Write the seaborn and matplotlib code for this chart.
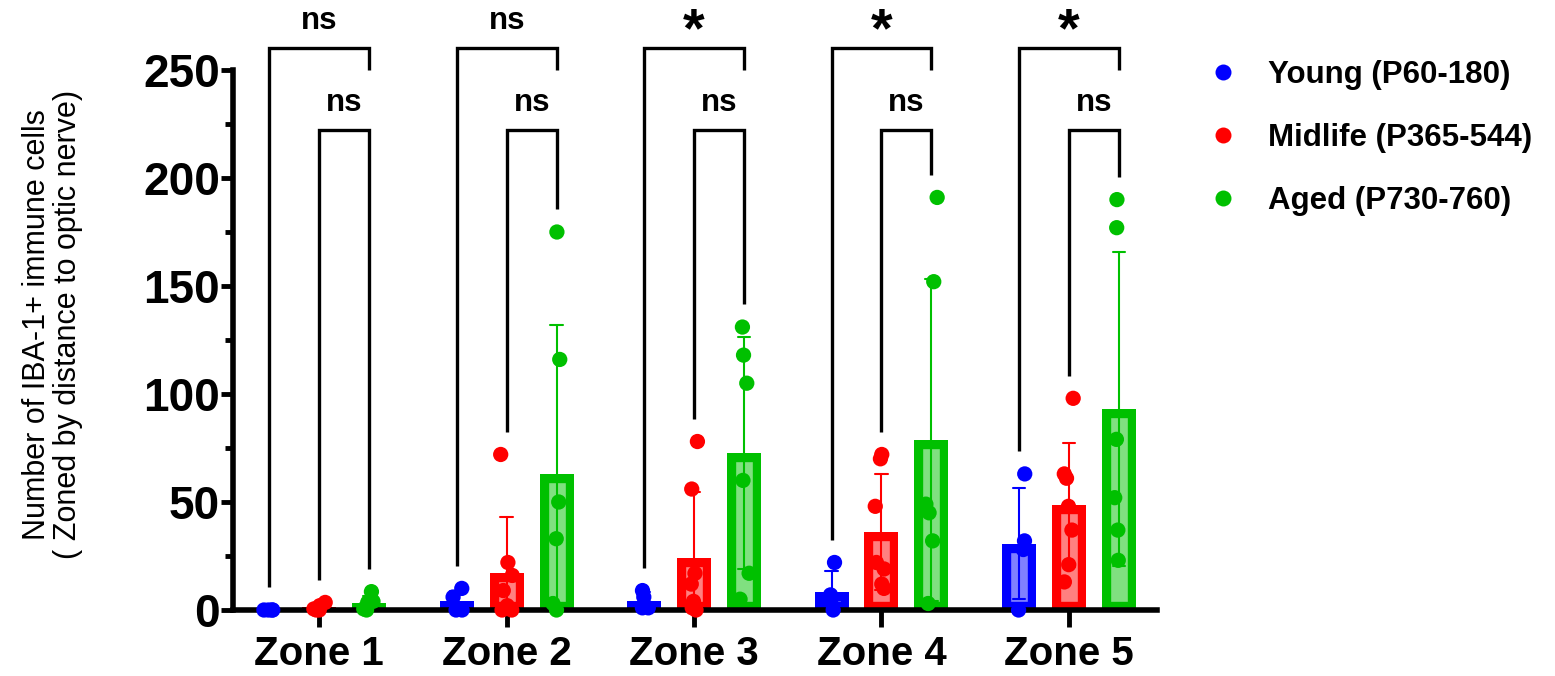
import numpy as np
import pandas as pd
import matplotlib
matplotlib.use("Agg")
import matplotlib.pyplot as plt
from matplotlib.lines import Line2D
from matplotlib.ticker import MultipleLocator
import seaborn as sns

# IBA-1+ cell counts per retina, by zone (distance to optic nerve) and age group
zones = ["Zone 1", "Zone 2", "Zone 3", "Zone 4", "Zone 5"]
groups = ["Young (P60-180)", "Midlife (P365-544)", "Aged (P730-760)"]

young = [
    [0, 0, 0, 0],
    [10, 6, 0, 0],
    [9, 6, 1, 1],
    [22, 7, 4, 0],
    [63, 32, 28, 0],
]
midlife = [
    [3.5, 2, 1, 0.5, 0, 0],
    [72, 22, 16, 9, 2, 0, 0],
    [78, 56, 17, 12, 4, 1, 0],
    [72, 70, 48, 22, 19, 12, 10],
    [98, 63, 61, 48, 37, 21, 13],
]
aged = [
    [8.5, 4, 3.5, 0.5, 0],
    [175, 116, 50, 33, 3, 0],
    [131, 118, 105, 60, 17, 5],
    [191, 152, 49, 45, 32, 3],
    [190, 177, 79, 52, 37, 23],
]

# multiple-comparison results: Young vs Aged (outer), Midlife vs Aged (inner)
outer_marks = ["ns", "ns", "*", "*", "*"]
inner_marks = ["ns", "ns", "ns", "ns", "ns"]

line_colors = ["#0000FF", "#FF0000", "#00C000"]
fill_colors = ["#8080FF", "#FF8080", "#80E080"]

rows = []
for g, series in zip(groups, [young, midlife, aged]):
    for z, vals in zip(zones, series):
        for v in vals:
            rows.append({"zone": z, "group": g, "count": v})
df = pd.DataFrame(rows)

sns.set_style("ticks")
plt.rcParams["font.family"] = ["Liberation Sans", "DejaVu Sans"]
for key in ("text.color", "axes.labelcolor", "xtick.color", "ytick.color", "axes.edgecolor"):
    plt.rcParams[key] = "black"

W, H = 1555, 676
fig = plt.figure(figsize=(W / 100, H / 100), dpi=100)
ax = fig.add_axes([233 / W, 66 / H, 924 / W, 540 / H])

sns.barplot(
    data=df, x="zone", y="count", hue="group", order=zones, hue_order=groups,
    palette=fill_colors, errorbar="sd", capsize=0.2, width=0.8, gap=0.32,
    err_kws={"linewidth": 1.5}, legend=False, ax=ax,
)

slot = 0.8 / len(groups)


def hue_index(xc):
    return int(round((xc - round(xc)) / slot)) + 1


# bars: light fill with a solid inner border
for bar in ax.patches:
    i = hue_index(bar.get_x() + bar.get_width() / 2)
    bar.set_facecolor(fill_colors[i])
    bar.set_edgecolor(line_colors[i])
    bar.set_linewidth(12.5)
    bar.set_clip_path(bar)

# error bars in the group colour
for ln in ax.lines:
    ln.set_color(line_colors[hue_index(np.nanmean(ln.get_xdata()))])

np.random.seed(7)
sns.stripplot(
    data=df, x="zone", y="count", hue="group", order=zones, hue_order=groups,
    palette=line_colors, dodge=True, jitter=0.1, size=11, linewidth=0,
    legend=False, ax=ax, zorder=4, clip_on=False,
)

# comparison brackets
series = [young, midlife, aged]
outer_top, outer_stub, inner_top = 260, 250, 222
for k in range(len(zones)):
    ends = [max(s[k]) + 10.5 for s in series]
    xb, xm, xa = k - slot, k, k + slot
    ax.plot([xb, xb, xa, xa], [ends[0], outer_top, outer_top, outer_stub],
            color="black", lw=2.4, clip_on=False, zorder=2,
            solid_joinstyle="miter", solid_capstyle="butt")
    ax.plot([xm, xm, xa, xa], [ends[1], inner_top, inner_top, ends[2]],
            color="black", lw=2.4, clip_on=False, zorder=2,
            solid_joinstyle="miter", solid_capstyle="butt")
    for mark, xc, base in [(outer_marks[k], k, 268.8), (inner_marks[k], (xm + xa) / 2, 231.2)]:
        if mark == "*":
            ax.text(xc, base - 8, mark, ha="center", va="baseline", fontsize=40,
                    fontweight="bold", clip_on=False)
        else:
            ax.text(xc, base, mark, ha="center", va="baseline", fontsize=22.5,
                    fontweight="bold", clip_on=False)

ax.set_xlim(-0.46, 4.47)
ax.set_ylim(0, 250)
ax.set_yticks(range(0, 251, 50))
ax.yaxis.set_minor_locator(MultipleLocator(25))
ax.tick_params(axis="y", which="major", length=8.5, width=3.5, labelsize=33, pad=1)
ax.tick_params(axis="y", which="minor", length=5.5, width=3.5)
ax.tick_params(axis="x", length=12, width=3.5, labelsize=29, pad=6)
for lab in ax.get_xticklabels() + ax.get_yticklabels():
    lab.set_fontweight("bold")
sns.despine(ax=ax)
for side in ("left", "bottom"):
    ax.spines[side].set_linewidth(4)
ax.set_xlabel("")
ax.set_ylabel("Number of IBA-1+ immune cells\n( Zoned by distance to optic nerve)",
              fontsize=22, linespacing=1.05)
ax.yaxis.set_label_coords(-0.162, 0.528)

handles = [Line2D([], [], marker="o", linestyle="", markersize=11.5,
                  markerfacecolor=c, markeredgewidth=0) for c in line_colors]
fig.legend(handles, groups, loc="upper left", bbox_to_anchor=(1207 / W, 1 - 60 / H),
           frameon=False, prop={"weight": "bold", "size": 22.5}, handlelength=1.0,
           handletextpad=0.95, labelspacing=1.05, borderpad=0, borderaxespad=0)

fig.savefig("out.png", dpi=100)
